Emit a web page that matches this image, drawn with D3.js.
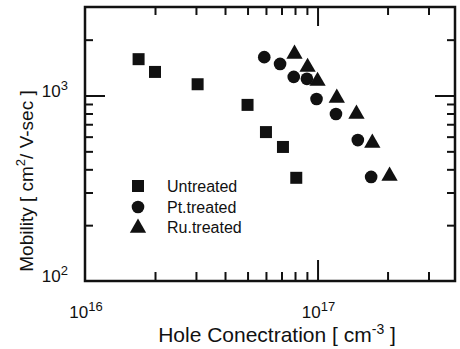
<!DOCTYPE html>
<html>
<head>
<meta charset="utf-8">
<script src="https://cdn.jsdelivr.net/npm/d3@7"></script>
<style>
  html, body { margin: 0; padding: 0; background: #fff; }
  svg { display: block; font-family: "Liberation Sans", Arial, sans-serif; }
</style>
</head>
<body>
<svg id="chart" width="460" height="349"></svg>
<script>
// Hole concentration (cm^-3) and Hall mobility (cm^2/V-sec) per sample set
const untreatedConc = [1.70e16, 2.0e16, 3.05e16, 5.0e16, 6.0e16, 7.1e16, 8.1e16];
const untreatedMob  = [1570, 1340, 1150, 890, 635, 528, 360];

const ptConc = [5.9e16, 6.9e16, 7.9e16, 9.0e16, 9.9e16, 1.2e17, 1.49e17, 1.70e17];
const ptMob  = [1610, 1480, 1260, 1230, 957, 795, 575, 364];

const ruConc = [7.96e16, 9.06e16, 1.0e17, 1.21e17, 1.47e17, 1.72e17, 2.04e17];
const ruMob  = [1695, 1440, 1210, 982, 805, 562, 373];

const seriesNames = ["Untreated", "Pt.treated", "Ru.treated"];

const xMajor = [1e16, 1e17];
const xMinor = [2e16, 3e16, 4e16, 5e16, 6e16, 7e16, 8e16, 9e16, 2e17, 3e17];
const yMajor = [1e2, 1e3];
const yMinor = [200, 300, 400, 500, 600, 700, 800, 900, 2000];

const svg = d3.select("#chart");
const plotL = 85, plotR = 455, plotT = 7, plotB = 281;

const x = d3.scaleLog().domain([1e16, 3.9e17]).range([plotL, plotR]);
const y = d3.scaleLog().domain([100, 3000]).range([plotB, plotT]);

const ink = "#111";

// inward ticks on all four sides
function ticks(axisGen, values, size, transform) {
  const g = svg.append("g")
    .attr("transform", transform)
    .call(axisGen.tickValues(values).tickSize(size).tickFormat(""));
  g.select(".domain").remove();
  g.selectAll("line").attr("stroke", ink).attr("stroke-width", 2);
}
ticks(d3.axisBottom(x), xMinor, -9, `translate(0,${plotB})`);
ticks(d3.axisBottom(x), [1e17], -21, `translate(0,${plotB})`);
ticks(d3.axisTop(x), xMinor, -8, `translate(0,${plotT})`);
ticks(d3.axisTop(x), [1e17], -19, `translate(0,${plotT})`);
ticks(d3.axisLeft(y), yMinor, -8, `translate(${plotL},0)`);
ticks(d3.axisLeft(y), [1e3], -20, `translate(${plotL},0)`);
ticks(d3.axisRight(y), yMinor, -8, `translate(${plotR},0)`);
ticks(d3.axisRight(y), [1e3], -20, `translate(${plotR},0)`);

// frame
svg.append("rect")
  .attr("x", plotL).attr("y", plotT)
  .attr("width", plotR - plotL).attr("height", plotB - plotT)
  .attr("fill", "none").attr("stroke", ink).attr("stroke-width", 2.5);

// power-of-ten tick labels
function powLabel(sel, v) {
  const e = Math.round(Math.log10(v));
  sel.append("tspan").text("10");
  sel.append("tspan").attr("font-size", 13).attr("dy", -7).text(e);
}
xMajor.forEach(v => {
  svg.append("text")
    .attr("x", x(v) + 1).attr("y", 318)
    .attr("text-anchor", "middle")
    .attr("font-size", 17).attr("fill", ink)
    .call(powLabel, v);
});
yMajor.forEach(v => {
  svg.append("text")
    .attr("x", 68).attr("y", y(v) + 1)
    .attr("text-anchor", "end")
    .attr("font-size", 17).attr("fill", ink)
    .call(powLabel, v);
});

// axis titles
const xt = svg.append("text")
  .attr("x", 277).attr("y", 342)
  .attr("text-anchor", "middle")
  .attr("font-size", 21).attr("fill", ink);
xt.append("tspan").text("Hole Conectration [ cm");
xt.append("tspan").attr("font-size", 14).attr("dy", -8).text("-3");
xt.append("tspan").attr("dy", 8).text(" ]");

const yt = svg.append("text")
  .attr("transform", "translate(33,181) rotate(-90)")
  .attr("text-anchor", "middle")
  .attr("font-size", 19).attr("fill", ink);
yt.append("tspan").text("Mobility [ cm");
yt.append("tspan").attr("font-size", 13).attr("dy", -8).text("2");
yt.append("tspan").attr("dy", 8).text("/ V-sec ]");

// markers
const sq = d3.symbol().type(d3.symbolSquare).size(144);
const ci = d3.symbol().type(d3.symbolCircle).size(125);
const tr = d3.symbol().type(d3.symbolTriangle).size(115);

function plot(conc, mob, gen, dy) {
  svg.append("g").selectAll("path")
    .data(conc.map((c, i) => [c, mob[i]]))
    .join("path")
    .attr("d", gen)
    .attr("transform", d => `translate(${x(d[0])},${y(d[1]) + dy})`)
    .attr("fill", ink);
}
plot(untreatedConc, untreatedMob, sq, 0);
plot(ptConc, ptMob, ci, 0);
plot(ruConc, ruMob, tr, 1);

// legend
const legendGens = [sq, ci, tr];
const legendY = [186, 207, 227];
seriesNames.forEach((name, i) => {
  svg.append("path")
    .attr("d", legendGens[i])
    .attr("transform", `translate(138,${legendY[i] + (i === 2 ? 1 : 0)})`)
    .attr("fill", ink);
  svg.append("text")
    .attr("x", 167).attr("y", legendY[i] + 6)
    .attr("font-size", 16).attr("fill", ink)
    .text(name);
});
</script>
</body>
</html>
